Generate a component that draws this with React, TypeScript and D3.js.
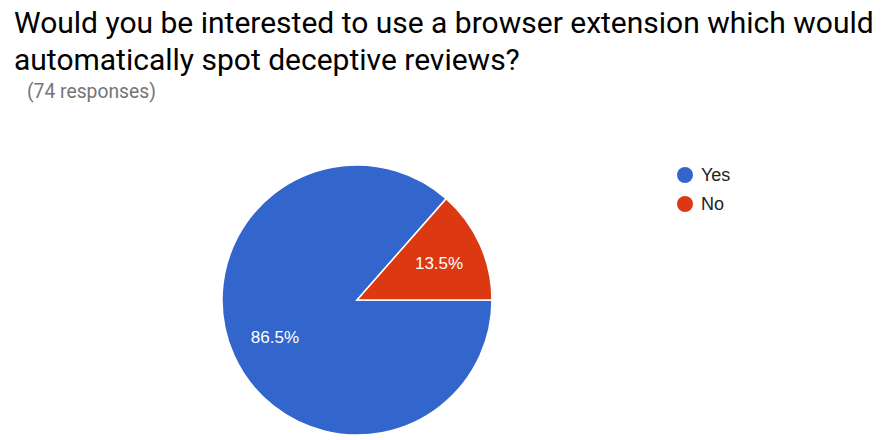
import * as d3 from "d3";

const labels = ["Yes", "No"];
const counts = [64, 10];
const colors = ["#3366cc", "#dc3912"];

const width = 881;
const height = 440;

export default function App() {
  const cx = 357;
  const cy = 300;
  const r = 135;
  const total = d3.sum(counts);

  const pie = d3
    .pie<number>()
    .sort(null)
    .value((d) => d)
    .startAngle(Math.PI / 2)
    .endAngle(Math.PI / 2 + 2 * Math.PI);
  const arcs = pie(counts);
  const arc = d3.arc<d3.PieArcDatum<number>>().innerRadius(0).outerRadius(r);
  const labelArc = d3.arc<d3.PieArcDatum<number>>().innerRadius(r * 0.667).outerRadius(r * 0.667);

  return (
    <svg
      width={width}
      height={height}
      style={{ position: "absolute", left: 0, top: 0, background: "#fff" }}
    >
      <text x={14} y={33} fontFamily="Roboto" fontSize={30} fill="#000">
        Would you be interested to use a browser extension which would
      </text>
      <text x={14} y={70} fontFamily="Roboto" fontSize={30} fill="#000">
        automatically spot deceptive reviews?
      </text>
      <text x={27} y={98} fontFamily="Roboto" fontSize={19.3} fill="#757575">
        (74 responses)
      </text>

      <g transform={`translate(${cx},${cy})`}>
        {arcs.map((a, i) => (
          <path key={labels[i]} d={arc(a) ?? ""} fill={colors[i]} stroke="#fff" strokeWidth={1.5} />
        ))}
        {arcs.map((a, i) => {
          const [x, y] = labelArc.centroid(a);
          return (
            <text
              key={labels[i]}
              x={x}
              y={y}
              dy="0.35em"
              textAnchor="middle"
              fontFamily="Liberation Sans, Arial"
              fontSize={17}
              fill="#fff"
            >
              {((counts[i] / total) * 100).toFixed(1)}%
            </text>
          );
        })}
      </g>

      <g transform="translate(685,175)">
        {labels.map((l, i) => (
          <g key={l} transform={`translate(0,${i * 29})`}>
            <circle r={8} fill={colors[i]} />
            <text x={16} dy="0.35em" fontFamily="Liberation Sans, Arial" fontSize={18} fill="#222">
              {l}
            </text>
          </g>
        ))}
      </g>
    </svg>
  );
}
